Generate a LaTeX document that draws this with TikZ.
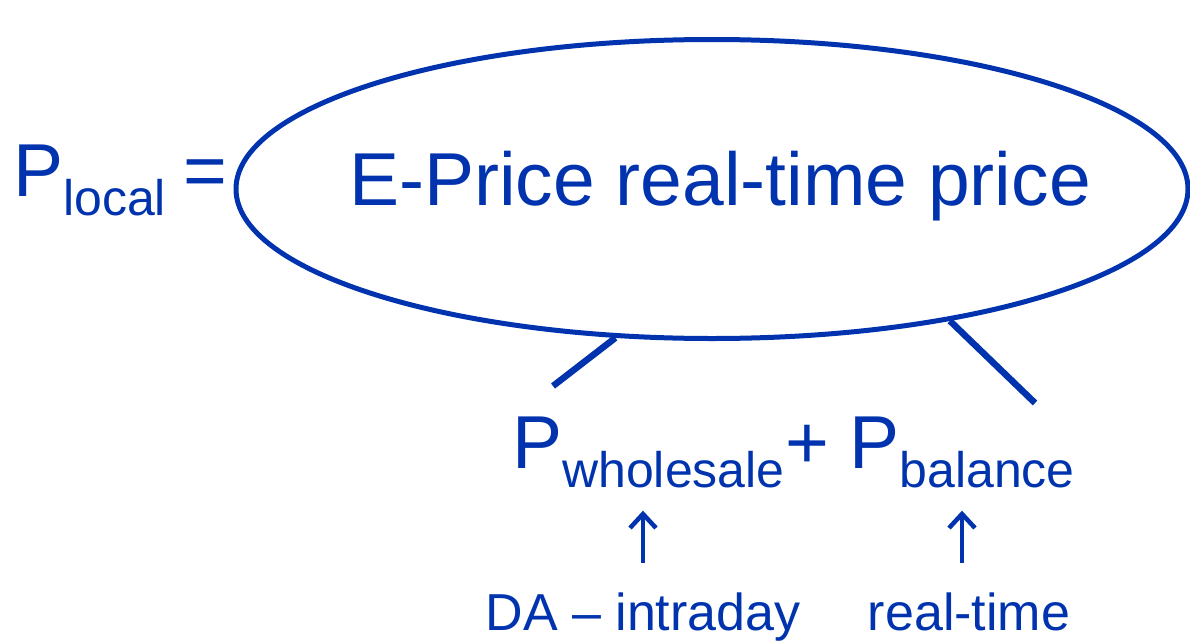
\documentclass[tikz,border=0pt]{standalone}
\usepackage{fontspec}
\setmainfont{Liberation Sans}
\usetikzlibrary{shapes.geometric}
\usetikzlibrary{arrows.meta}
\definecolor{priceBlue}{RGB}{0,51,173}
\newcommand{\psub}[1]{\raisebox{-19pt}{\fontsize{50}{50}\selectfont #1}}

\begin{document}
\begin{tikzpicture}[x=1pt,y=-1pt]
		\tikzset{bigtext/.style={text=priceBlue,inner sep=0pt,font=\fontsize{75}{75}\selectfont},
			smalltext/.style={text=priceBlue,inner sep=0pt,font=\fontsize{52}{52}\selectfont},
			stem/.style={line width=6.5pt,priceBlue},
			upArrow/.style={-{Straight Barb[length=14pt,width=26pt]},line width=4.5pt,priceBlue}}
		\useasboundingbox (0,0) rectangle (1190,640);
		\node (plocal) at (13,196) [bigtext,anchor=base west] {P\psub{local}};
		\node (eq) at (183,196) [bigtext,anchor=base west] {=};
		\node (price) at (712,189) [draw=priceBlue,line width=5pt,ellipse,minimum width=952pt,minimum height=299pt,inner sep=0pt] {};
		\node (pricetext) at (720,205) [bigtext,anchor=base] {E-Price real-time price};
		\node (pWholesale) at (512,468) [bigtext,anchor=base west] {P\psub{wholesale}};
		\node (pBalance) at (pWholesale.base east) [bigtext,anchor=base west] {+ P\psub{balance}};
		\node (daLabel) at (643,630) [smalltext,anchor=base] {DA -- intraday};
		\node (rtLabel) at (969,630) [smalltext,anchor=base] {real-time};
		
		\coordinate (wsTip) at (553,386);
		\coordinate (balTip) at (1035,403);
		
		\path
		(price.-123) edge [stem] (wsTip)
		(price.-29) edge [stem] (balTip);
		
		%Flechas
		\draw[upArrow,shorten <=29pt,shorten >=23pt] (daLabel.north) -- (daLabel.north |- pWholesale.south);
		\draw[upArrow,shorten <=29pt,shorten >=23pt] ([xshift=-7pt]rtLabel.north) -- ([xshift=-7pt]rtLabel.north |- pBalance.south);
	\end{tikzpicture}
\end{document}
